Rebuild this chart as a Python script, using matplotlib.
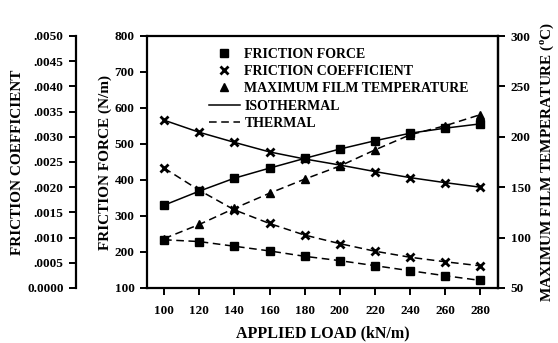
import matplotlib
matplotlib.use("Agg")
import matplotlib.pyplot as plt
from matplotlib.lines import Line2D

plt.rcParams['font.family'] = ['Liberation Serif', 'DejaVu Serif']
plt.rcParams['font.weight'] = 'bold'
plt.rcParams['mathtext.fontset'] = 'custom'
plt.rcParams['mathtext.rm'] = 'Liberation Serif:bold'
plt.rcParams['mathtext.bf'] = 'Liberation Serif:bold'

# Applied load (kN/m)
load = [100, 120, 140, 160, 180, 200, 220, 240, 260, 280]

# Friction force (N/m)
force_iso = [330, 369, 405, 433, 460, 486, 509, 530, 544, 556]
force_thermal = [234, 229, 216, 203, 188, 176, 162, 148, 134, 121]

# Friction coefficient
coef_iso = [0.00333, 0.00309, 0.00289, 0.00270, 0.00256, 0.00244,
            0.00231, 0.00219, 0.00209, 0.00200]
coef_thermal = [0.00238, 0.00194, 0.00155, 0.00128, 0.00105, 0.00088,
                0.00073, 0.00061, 0.00052, 0.00044]

# Maximum film temperature (deg C), thermal solution
temp_thermal = [99, 113, 129, 144, 158, 171, 187, 202, 211, 222]

coef_ticks = [0.0, 0.0005, 0.0010, 0.0015, 0.0020, 0.0025,
              0.0030, 0.0035, 0.0040, 0.0045, 0.0050]
coef_ticklabels = ['0.0000', '.0005', '.0010', '.0015', '.0020', '.0025',
                   '.0030', '.0035', '.0040', '.0045', '.0050']

W, H = 558, 343
fig = plt.figure(figsize=(W / 100, H / 100), dpi=100)
L, R, T, B = 147, 498, 36, 288
ax = fig.add_axes([L / W, 1 - B / H, (R - L) / W, (B - T) / H])
ax2 = ax.twinx()
ax3 = ax.twinx()

lw_spine = 1.6
tick_fs = 9.5
label_fs = 11

ms_sq = 5.5
ms_x = 6
ms_tri = 6
lw = 1.1
dash = (0, (5, 3))

# Friction force
ax.plot(load, force_iso, color='black', lw=lw, marker='s', ms=ms_sq)
ax.plot(load, force_thermal, color='black', lw=lw, ls=dash, marker='s', ms=ms_sq)

# Friction coefficient
ax3.plot(load, coef_iso, color='black', lw=lw, marker='x', ms=ms_x, mew=2)
ax3.plot(load, coef_thermal, color='black', lw=lw, ls=dash, marker='x', ms=ms_x, mew=2)

# Maximum film temperature
ax2.plot(load, temp_thermal, color='black', lw=lw, ls=dash, marker='^', ms=ms_tri)

ax.set_xlim(90.3, 290)
ax.set_ylim(100, 800)
ax2.set_ylim(50, 300)
ax3.set_ylim(0, 0.005)

ax.set_xticks(load)
ax.set_yticks(range(100, 801, 100))
ax2.set_yticks(range(50, 301, 50))
ax3.set_yticks(coef_ticks)
ax3.set_yticklabels(coef_ticklabels)

for a in (ax, ax2, ax3):
    for s in a.spines.values():
        s.set_linewidth(lw_spine)
    a.tick_params(direction='out', width=1.4, length=5, labelsize=tick_fs, pad=4)
ax.tick_params(axis='x', pad=7)

ax.spines['top'].set_visible(True)
ax2.spines['left'].set_visible(False)
ax2.spines['top'].set_visible(False)
ax2.spines['bottom'].set_visible(False)

ax3.spines['right'].set_visible(False)
ax3.spines['top'].set_visible(False)
ax3.spines['bottom'].set_visible(False)
ax3.spines['left'].set_visible(True)
ax3.spines['left'].set_position(('axes', (76 - L) / (R - L)))
ax3.yaxis.set_ticks_position('left')
ax3.yaxis.set_label_position('left')

ax.set_xlabel('APPLIED LOAD (kN/m)', fontsize=label_fs + 0.5, fontweight='bold', labelpad=6)
ax.set_ylabel('FRICTION FORCE (N/m)', fontsize=label_fs, fontweight='bold', labelpad=2)
ax2.set_ylabel(r'MAXIMUM FILM TEMPERATURE ($^{\mathrm{o}}$C)', fontsize=label_fs,
               fontweight='bold', labelpad=6)
ax3.set_ylabel('FRICTION COEFFICIENT', fontsize=label_fs, fontweight='bold', labelpad=2)

handles = [
    Line2D([], [], color='black', ls='none', marker='s', ms=ms_sq),
    Line2D([], [], color='black', ls='none', marker='x', ms=ms_x, mew=2),
    Line2D([], [], color='black', ls='none', marker='^', ms=ms_tri),
    Line2D([], [], color='black', lw=lw),
    Line2D([], [], color='black', lw=lw, ls=dash),
]
labels = ['FRICTION FORCE', 'FRICTION COEFFICIENT', 'MAXIMUM FILM TEMPERATURE',
          'ISOTHERMAL', 'THERMAL']
leg = ax.legend(handles, labels, loc='upper left',
                bbox_to_anchor=((209 - L) / (R - L), 1 - (48 - T) / (B - T)),
                frameon=False, fontsize=10, handlelength=2.2, handletextpad=0.35,
                labelspacing=0.3, borderpad=0, borderaxespad=0)
for t in leg.get_texts():
    t.set_fontweight('bold')

fig.savefig('out.png', dpi=100)
